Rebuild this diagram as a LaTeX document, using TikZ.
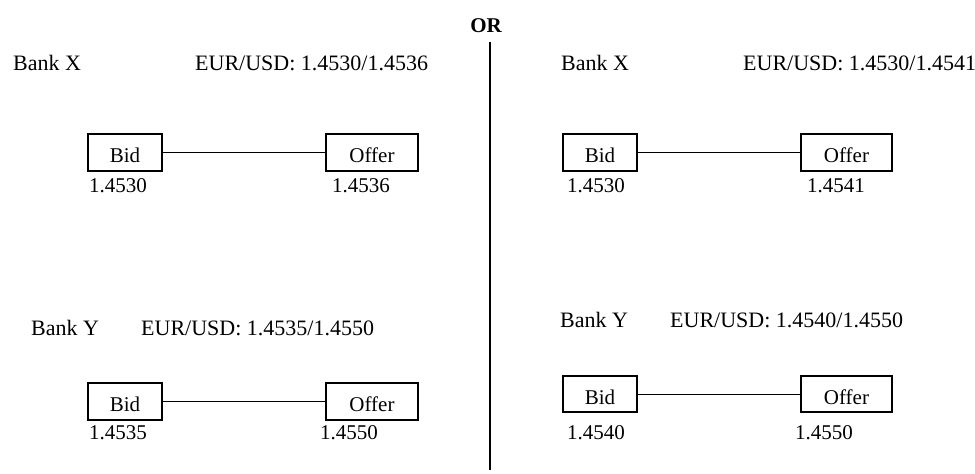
\documentclass[tikz,border=0pt]{standalone}
\usepackage{fontspec}
\setmainfont{Liberation Serif}
\begin{document}
\begin{tikzpicture}[x=1pt,y=-1pt,
  every node/.style={font=\fontsize{21}{24}\selectfont, inner sep=0pt},
  quote/.style={rectangle, draw=black, line width=1.1pt, minimum height=37pt,
    text height=20pt, text depth=0pt},
  bidbox/.style={quote, minimum width=74pt},
  offerbox/.style={quote, minimum width=92pt},
  label/.style={anchor=base west},
  header/.style={anchor=base west, font=\fontsize{22}{26}\selectfont},
  link/.style={draw=black, line width=1pt}]
\useasboundingbox (0,0) rectangle (975,474);
\fill[white] (0,0) rectangle (975,474);

% divider between the two scenarios
\node[anchor=base] (or) at (486,32) {\bfseries OR};
\coordinate (divtop) at (490,42);
\coordinate (divbot) at (490,470);
\draw[line width=1.4pt] (divtop) -- (divbot);

% ---- left scenario, Bank X ----
\node[header] (lxbank) at (13,70) {Bank X};
\node[header] (lxquote) at (195,70) {EUR/USD: 1.4530/1.4536};
\node[bidbox] (lxbid) at (125,152.5) {Bid};
\node[offerbox] (lxoffer) at (372,152.5) {Offer};
\draw[link] (lxbid) -- (lxoffer);
\node[label] (lxbidv) at (89,192) {1.4530};
\node[label] (lxofferv) at (332,192) {1.4536};

% ---- left scenario, Bank Y ----
\node[header] (lybank) at (31,335) {Bank Y};
\node[header] (lyquote) at (141,335) {EUR/USD: 1.4535/1.4550};
\node[bidbox] (lybid) at (125,401.5) {Bid};
\node[offerbox] (lyoffer) at (372,401.5) {Offer};
\draw[link] (lybid) -- (lyoffer);
\node[label] (lybidv) at (89,439) {1.4535};
\node[label] (lyofferv) at (320,439) {1.4550};

% ---- right scenario, Bank X ----
\node[header] (rxbank) at (561,70) {Bank X};
\node[header] (rxquote) at (743,70) {EUR/USD: 1.4530/1.4541};
\node[bidbox] (rxbid) at (600,152.5) {Bid};
\node[offerbox, minimum width=91pt] (rxoffer) at (846.5,152.5) {Offer};
\draw[link] (rxbid) -- (rxoffer);
\node[label] (rxbidv) at (567,192) {1.4530};
\node[label] (rxofferv) at (807,192) {1.4541};

% ---- right scenario, Bank Y ----
\node[header] (rybank) at (560,327) {Bank Y};
\node[header] (ryquote) at (670,327) {EUR/USD: 1.4540/1.4550};
\node[bidbox, minimum height=36pt] (rybid) at (600,394) {Bid};
\node[offerbox, minimum width=91pt, minimum height=36pt] (ryoffer) at (846.5,394) {Offer};
\draw[link] (rybid) -- (ryoffer);
\node[label] (rybidv) at (567,439) {1.4540};
\node[label] (ryofferv) at (795,439) {1.4550};
\end{tikzpicture}
\end{document}
